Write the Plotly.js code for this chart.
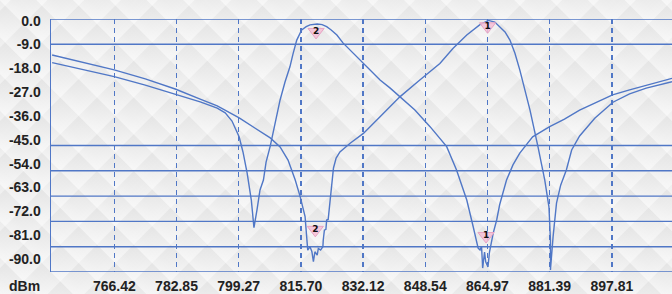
<!DOCTYPE html>
<html>
<head>
<meta charset="utf-8">
<script src="https://cdn.plot.ly/plotly-3.0.1.min.js"></script>
<style>
  html, body { margin: 0; padding: 0; }
  body {
    width: 672px; height: 294px; overflow: hidden;
    background-color: #eeeeee;
    background-image:
      repeating-linear-gradient(45deg, rgba(255,255,255,0.38) 0px, rgba(255,255,255,0) 13px, rgba(0,0,0,0.018) 25px, rgba(255,255,255,0.38) 26px),
      repeating-linear-gradient(-45deg, rgba(255,255,255,0.32) 0px, rgba(255,255,255,0) 13px, rgba(0,0,0,0.018) 25px, rgba(255,255,255,0.32) 26px);
  }
  #chart { width: 672px; height: 294px; }
</style>
</head>
<body>
<div id="chart"></div>
<script>
// ---- Data ----
// Trace with passband near 820 MHz (marker 2 at peak, marker 1 at its notch)
const freqA = [750.0, 766.4, 774.6, 782.5, 789.1, 793.6, 795.7, 797.5, 799.4, 800.4, 801.5, 802.6, 803.3,
  804.1, 804.9, 805.8, 806.5, 807.6, 808.9, 810.2, 811.5, 812.8, 813.6, 814.6, 815.9, 817.1, 818.1, 820.0,
  821.3, 822.5, 823.7, 825.2, 826.8, 828.7, 830.4, 832.2, 834.0, 836.6, 839.2, 841.9, 845.8, 849.8, 852.4,
  854.2, 856.8, 859.5, 861.2, 862.1, 862.5, 863.0, 863.4, 863.7, 864.2, 864.5, 865.1, 865.5, 865.9,
  866.5, 867.4, 868.2, 870.0, 871.7, 873.5, 876.9, 881.4, 885.3, 889.3, 893.3, 898.0, 902.5, 906.9, 913.7];
const levelA = [-15.5, -20.5, -23.5, -26.8, -29.5, -31.7, -33.4, -36.3, -42.0, -47.3, -54.8, -64.4, -74.2,
  -67.9, -60.8, -57.3, -50.9, -45.2, -37.4, -28.8, -22.4, -17.0, -12.5, -7.5, -3.9, -2.7, -2.1, -1.8,
  -2.0, -2.7, -3.9, -5.7, -8.5, -11.0, -13.6, -15.9, -18.1, -21.7, -24.5, -27.6, -32.4, -38.3, -42.3,
  -45.4, -53.7, -64.4, -73.9, -78.6, -81.5, -82.2, -80.8, -88.6, -82.9, -86.4, -88.2, -82.9, -80.0,
  -76.1, -71.5, -66.0, -57.3, -51.9, -47.7, -41.9, -38.3, -35.6, -32.4, -30.0, -27.0, -25.2, -23.5, -21.1];

// Trace with passband near 865 MHz (marker 1 at peak, marker 2 at its notch)
const freqB = [750.0, 766.4, 774.6, 782.5, 789.1, 793.6, 799.4, 803.6, 807.6, 810.2, 812.3, 814.2, 815.5,
  816.8, 817.5, 818.1, 818.6, 819.0, 819.4, 820.0, 820.3, 820.9, 821.5, 821.6, 821.9, 822.3, 822.5, 822.9,
  823.4, 823.8, 824.3, 825.0, 826.0, 828.7, 832.2, 836.6, 841.9, 847.1, 852.4, 855.9, 859.5, 862.9, 865.2,
  866.9, 868.2, 869.6, 870.9, 872.2, 873.5, 874.8, 876.2, 878.3, 880.1, 881.2, 881.6, 881.6, 881.9, 882.3,
  883.2, 884.3, 885.8, 887.2, 889.3, 893.3, 898.1, 902.5, 906.9, 913.7];
const levelB = [-12.8, -18.1, -21.3, -24.9, -28.5, -30.9, -35.2, -38.8, -42.3, -45.5, -50.2, -57.3, -63.2,
  -70.3, -82.2, -81.0, -82.8, -86.3, -82.8, -84.0, -81.6, -82.2, -81.0, -78.6, -75.1, -74.8, -71.5, -71.3,
  -64.4, -57.3, -53.0, -49.5, -47.3, -44.2, -40.7, -34.8, -27.6, -21.7, -15.8, -10.4, -5.7, -2.1, -0.5,
  -1.1, -2.7, -4.6, -7.5, -12.1, -18.1, -25.3, -32.4, -45.4, -57.3, -66.8, -78.6, -89.3, -82.2, -77.4,
  -65.5, -59.1, -53.7, -46.6, -41.6, -35.3, -29.6, -26.6, -24.6, -22.3];

// Markers
const markerLabels = ['2', '2', '1', '1'];
const markerFreq = [819.7, 819.5, 865.0, 864.6];
const markerLevel = [-4.6, -75.0, -2.6, -77.2];

// Axis labels
const xTickLabels = ['766.42', '782.85', '799.27', '815.70', '832.12', '848.54', '864.97', '881.39', '897.81'];
const yTickLabels = ['0.0', '-9.0', '-18.0', '-27.0', '-36.0', '-45.0', '-54.0', '-63.0', '-72.0', '-81.0', '-90.0'];
const solidGridLevels = [0, -9, -45, -54, -63, -72, -81, -90];

// ---- Styling ----
const blue = '#5077c6';
const tickFont = {family: 'Liberation Sans, Arial, sans-serif', size: 14, color: '#222'};
const bold = s => '<b>' + s + '</b>';

const traces = [
  {x: freqA, y: levelA, mode: 'lines', line: {color: blue, width: 1.4}, hoverinfo: 'skip'},
  {x: freqB, y: levelB, mode: 'lines', line: {color: blue, width: 1.4}, hoverinfo: 'skip'},
  {x: markerFreq, y: markerLevel, mode: 'markers', 
   marker: {symbol: 'triangle-down', size: 14, color: 'rgba(244,192,214,0.85)', line: {color: '#e8a4c4', width: 1}},
   hoverinfo: 'skip'},
  {x: markerFreq, y: markerLevel, mode: 'text', text: markerLabels.map(bold),
   textposition: 'middle center',
   textfont: {family: 'DejaVu Sans, Arial', size: 9, color: '#111'},
   hoverinfo: 'skip'}
];

const shapes = solidGridLevels.map(v => ({
  type: 'line', xref: 'paper', x0: 0, x1: 1, yref: 'y', y0: v, y1: v,
  line: {color: blue, width: 1.4}
}));

const layout = {
  width: 672, height: 294,
  margin: {l: 51, r: 0, t: 19, b: 22},
  paper_bgcolor: 'rgba(0,0,0,0)', plot_bgcolor: 'rgba(0,0,0,0)',
  showlegend: false,
  xaxis: {
    range: [749.7, 913.7],
    tickvals: xTickLabels.map(Number), ticktext: xTickLabels.map(bold),
    tickfont: tickFont, ticks: '', ticklabelstandoff: 4,
    showgrid: true, gridcolor: blue, gridwidth: 1.4, griddash: '5px,4px',
    zeroline: false, showline: false
  },
  yaxis: {
    range: [-90, 0],
    tickvals: yTickLabels.map(s => Number(s) * 0.942 - 0.6), ticktext: yTickLabels.map(bold),
    tickfont: tickFont, ticks: '', ticklabelstandoff: 6,
    showgrid: false, zeroline: false,
    showline: true, linecolor: blue, linewidth: 1.4
  },
  shapes: shapes,
  annotations: [{
    text: bold('dBm'), xref: 'paper', yref: 'paper', x: -0.0145, y: -0.055,
    xanchor: 'right', yanchor: 'middle', showarrow: false, font: tickFont
  }]
};

Plotly.newPlot('chart', traces, layout, {displayModeBar: false, staticPlot: true});
</script>
</body>
</html>
